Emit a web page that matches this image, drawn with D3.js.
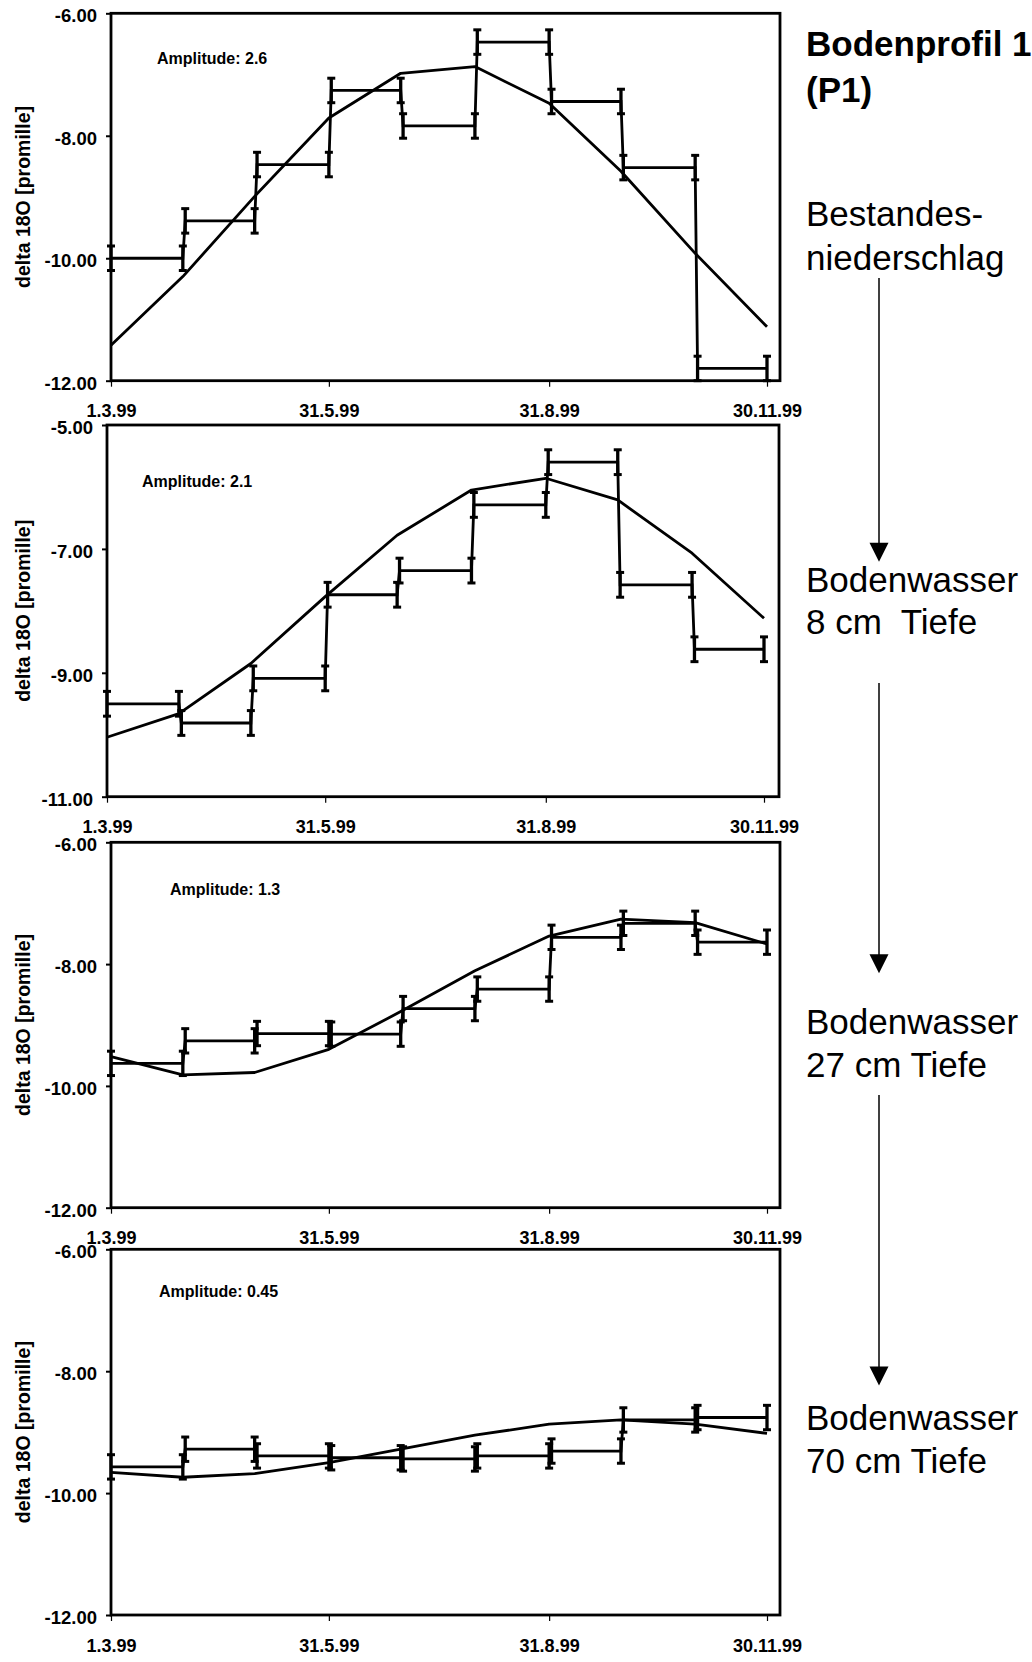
<!DOCTYPE html>
<html><head><meta charset="utf-8">
<script src="https://cdn.jsdelivr.net/npm/d3@7"></script>
<style>
body{margin:0;background:#fff}
svg{display:block}
text{font-family:"Liberation Sans",Arial,Helvetica,sans-serif;fill:#000}
</style>
</head><body>
<svg id="chart" width="1032" height="1662"></svg>
<script>
// ---------- data ----------
const stepStarts = ["1999-03-01","1999-04-01","1999-05-01","1999-06-01","1999-07-01","1999-08-01","1999-09-01","1999-10-01","1999-11-01"];
const stepEnds   = ["1999-03-31","1999-04-30","1999-05-31","1999-06-30","1999-07-31","1999-08-31","1999-09-30","1999-10-31","1999-11-30"];
const curveDates = ["1999-03-01","1999-03-31","1999-04-30","1999-05-31","1999-06-30","1999-07-31","1999-08-31","1999-09-30","1999-10-31","1999-11-30"];
const xTickDates = ["1999-03-01","1999-05-31","1999-08-31","1999-11-30"];
const xTickLabels = ["1.3.99","31.5.99","31.8.99","30.11.99"];

const p1Steps = [-10.00,-9.39,-8.47,-7.26,-7.84,-6.47,-7.44,-8.52,-11.80];
const p1Curve = [-11.42,-10.30,-8.99,-7.71,-6.98,-6.87,-7.47,-8.58,-9.92,-11.12];
const p1Err   = [0.2,0.2,0.2,0.2,0.2,0.2,0.2,0.2,0.2];
const p1YTicks = [-6,-8,-10,-12];
const p1Amp = "Amplitude: 2.6";

const p2Steps = [-9.50,-9.81,-9.09,-7.74,-7.35,-6.29,-5.60,-7.58,-8.62];
const p2Curve = [-10.04,-9.66,-8.85,-7.77,-6.78,-6.05,-5.86,-6.21,-7.07,-8.12];
const p2Err   = [0.2,0.2,0.2,0.2,0.2,0.2,0.2,0.2,0.2];
const p2YTicks = [-5,-7,-9,-11];
const p2Amp = "Amplitude: 2.1";

const p3Steps = [-9.63,-9.26,-9.14,-9.15,-8.73,-8.41,-7.56,-7.33,-7.64];
const p3Curve = [-9.52,-9.82,-9.78,-9.40,-8.78,-8.11,-7.54,-7.26,-7.32,-7.67];
const p3Err   = [0.2,0.2,0.2,0.2,0.2,0.2,0.2,0.2,0.2];
const p3YTicks = [-6,-8,-10,-12];
const p3Amp = "Amplitude: 1.3";

const p4Steps = [-9.57,-9.28,-9.39,-9.42,-9.44,-9.39,-9.31,-8.80,-8.76];
const p4Curve = [-9.66,-9.74,-9.68,-9.50,-9.28,-9.05,-8.87,-8.80,-8.87,-9.02];
const p4Err   = [0.2,0.2,0.2,0.2,0.2,0.2,0.2,0.2,0.2];
const p4YTicks = [-6,-8,-10,-12];
const p4Amp = "Amplitude: 0.45";

const yTitle = "delta 18O [promille]";
const titleLines = ["Bodenprofil 1","(P1)"];
const stageLabels = [["Bestandes-","niederschlag"],["Bodenwasser","8 cm  Tiefe"],["Bodenwasser","27 cm Tiefe"],["Bodenwasser","70 cm Tiefe"]];

// ---------- layout ----------
const panels = [
  {steps:p1Steps, curve:p1Curve, err:p1Err, yTicks:p1YTicks, amp:p1Amp, left:111, xEnd:767, right:780, top:13.3, bottom:380.7, ampX:157, ampY:64},
  {steps:p2Steps, curve:p2Curve, err:p2Err, yTicks:p2YTicks, amp:p2Amp, left:107, xEnd:764, right:779, top:425, bottom:796.7, ampX:142, ampY:487},
  {steps:p3Steps, curve:p3Curve, err:p3Err, yTicks:p3YTicks, amp:p3Amp, left:111, xEnd:767, right:780, top:842.3, bottom:1207.7, ampX:170, ampY:895},
  {steps:p4Steps, curve:p4Curve, err:p4Err, yTicks:p4YTicks, amp:p4Amp, left:111, xEnd:767, right:780, top:1249.3, bottom:1615, ampX:159, ampY:1297}
];

const parse = d3.timeParse("%Y-%m-%d");
const svg = d3.select("#chart");
svg.append("rect").attr("width",1032).attr("height",1662).attr("fill","#fff");
const FONT = '"Liberation Sans",Arial,sans-serif';

panels.forEach(p => {
  const x = d3.scaleTime().domain([parse(curveDates[0]), parse(curveDates[curveDates.length-1])]).range([p.left, p.xEnd]);
  const yMax = d3.max(p.yTicks), yMin = d3.min(p.yTicks);
  const y = d3.scaleLinear().domain([yMin, yMax]).range([p.bottom, p.top]);
  const g = svg.append("g");

  // frame
  g.append("rect").attr("x",p.left).attr("y",p.top).attr("width",p.right-p.left).attr("height",p.bottom-p.top)
    .attr("fill","none").attr("stroke","#000").attr("stroke-width",2.8);

  // y axis
  const ya = d3.axisLeft(y).tickValues(p.yTicks).tickFormat(d => d.toFixed(2)).tickSize(5).tickPadding(9);
  const yg = g.append("g").attr("transform",`translate(${p.left},0)`).call(ya);
  yg.select(".domain").remove();
  yg.selectAll("line").attr("stroke","#000").attr("stroke-width",2);
  yg.selectAll("text").attr("font-size",18.5).attr("font-weight","bold").attr("dy","0.45em")
    .style("font-family",FONT);

  // x axis
  const xa = d3.axisBottom(x).tickValues(xTickDates.map(parse)).tickFormat((d,i)=>xTickLabels[i]).tickSize(6).tickPadding(18);
  const xg = g.append("g").attr("transform",`translate(0,${p.bottom})`).call(xa);
  xg.select(".domain").remove();
  xg.selectAll("line").attr("stroke","#000").attr("stroke-width",1.2);
  xg.selectAll("text").attr("font-size",18).attr("font-weight","bold")
    .style("font-family",FONT);

  // y title
  g.append("text").attr("transform",`translate(30,${(p.top+p.bottom)/2}) rotate(-90)`)
    .attr("text-anchor","middle").attr("font-size",19.5).attr("font-weight","bold").text(yTitle);

  // amplitude
  g.append("text").attr("x",p.ampX).attr("y",p.ampY).attr("font-size",16).attr("font-weight","bold").text(p.amp);

  // curve
  const cData = curveDates.map((d,i)=>({d:parse(d), v:p.curve[i]}));
  g.append("path").datum(cData).attr("fill","none").attr("stroke","#000").attr("stroke-width",2.8)
    .attr("stroke-linejoin","round")
    .attr("d", d3.line().x(d=>x(d.d)).y(d=>y(d.v)));

  // step series (each interval start and end)
  const sData = [];
  p.steps.forEach((v,i)=>{
    sData.push({d:parse(stepStarts[i]), v, e:p.err[i]});
    sData.push({d:parse(stepEnds[i]), v, e:p.err[i]});
  });
  g.append("path").datum(sData).attr("fill","none").attr("stroke","#000").attr("stroke-width",2.8)
    .attr("d", d3.line().x(d=>x(d.d)).y(d=>y(d.v)));

  // error bars
  const eb = g.append("g").selectAll("g").data(sData).join("g");
  eb.append("line").attr("x1",d=>x(d.d)).attr("x2",d=>x(d.d)).attr("y1",d=>y(d.v-d.e)).attr("y2",d=>y(d.v+d.e))
    .attr("stroke","#000").attr("stroke-width",3.3);
  eb.append("line").attr("x1",d=>x(d.d)-4).attr("x2",d=>x(d.d)+4).attr("y1",d=>y(d.v+d.e)).attr("y2",d=>y(d.v+d.e))
    .attr("stroke","#000").attr("stroke-width",3);
  eb.append("line").attr("x1",d=>x(d.d)-4).attr("x2",d=>x(d.d)+4).attr("y1",d=>y(d.v-d.e)).attr("y2",d=>y(d.v-d.e))
    .attr("stroke","#000").attr("stroke-width",3);
});

// ---------- right side annotations ----------
const rx = 806;
svg.append("text").attr("x",rx).attr("y",56).attr("font-size",35).attr("font-weight","bold").text(titleLines[0]);
svg.append("text").attr("x",rx).attr("y",102).attr("font-size",35).attr("font-weight","bold").text(titleLines[1]);

const stageBase = [[226,270],[592,634],[1034,1077],[1430,1473]];
stageLabels.forEach((lines,i)=>{
  lines.forEach((t,j)=>{
    svg.append("text").attr("x",rx).attr("y",stageBase[i][j]).attr("font-size",35)
      .style("white-space","pre").attr("xml:space","preserve").text(t);
  });
});

const arrows = [[278,561.7],[683,973.3],[1095,1385.5]];
const ax = 879;
arrows.forEach(([y1,tip])=>{
  svg.append("line").attr("x1",ax).attr("x2",ax).attr("y1",y1).attr("y2",tip-18).attr("stroke","#000").attr("stroke-width",1.5);
  svg.append("path").attr("d",`M${ax-9.5},${tip-19}L${ax+9.5},${tip-19}L${ax},${tip}Z`).attr("fill","#000");
});
</script>
</body></html>
